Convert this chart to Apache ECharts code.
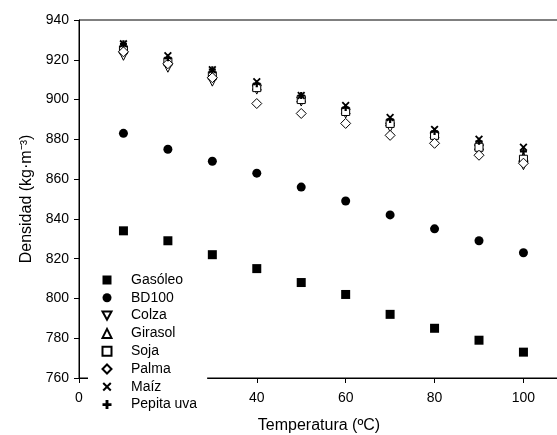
<!DOCTYPE html>
<html>
<head>
<meta charset="utf-8">
<script src="https://cdn.jsdelivr.net/npm/echarts@6/dist/echarts.min.js"></script>
<style>
  html, body { margin: 0; padding: 0; background: #fff; }
  #main { width: 557px; height: 435px; }
</style>
</head>
<body>
<div id="main"></div>
<script>
// temperature (ºC)
const temps = [10, 20, 30, 40, 50, 60, 70, 80, 90, 100];

// density (kg·m-3) per fuel
const gasoleo = [834, 829, 822, 815, 808, 802, 792, 785, 779, 773];
const bd100   = [883, 875, 869, 863, 856, 849, 842, 835, 829, 823];
const colza   = [922, 916, 909, 905, 899, 893, 886, 881, 875, 867];
const girasol = [926, 920, 913, 907, 901, 895, 889, 883, 877, 871];
const soja    = [925, 919, 912, 906, 900, 894, 888, 882, 876, 870];
const palma   = [924, 918, 911, 898, 893, 888, 882, 878, 872, 868];
const maiz    = [928, 922, 915, 909, 902, 897, 891, 885, 880, 876];
const pepita  = [928, 921, 915, 908, 902, 896, 890, 884, 879, 874];

const yTicks = [760, 780, 800, 820, 840, 860, 880, 900, 920, 940];

const FONT = "Liberation Sans, Arial, sans-serif";
const X_PATH = "path://M0,1.6 L1.6,0 L5,3.4 L8.4,0 L10,1.6 L6.6,5 L10,8.4 L8.4,10 L5,6.6 L1.6,10 L0,8.4 L3.4,5 Z";
const PLUS_PATH = "path://M3.4,0 H6.6 V3.4 H10 V6.6 H6.6 V10 H3.4 V6.6 H0 V3.4 H3.4 Z";
const DOWN_TRI = "path://M0,0 L10,0 L5,9 Z";

function pts(vals) {
  return temps.map((t, i) => [t, vals[i]]);
}

function mk(name, vals, symbol, size, empty) {
  return {
    name: name,
    type: "scatter",
    data: pts(vals),
    symbol: symbol,
    symbolSize: size,
    itemStyle: empty
      ? { color: "#fff", borderColor: "#000", borderWidth: 1, opacity: 1 }
      : { color: "#000", opacity: 1 },
    emphasis: { disabled: true },
  };
}

const chart = echarts.init(document.getElementById("main"));

chart.setOption({
  animation: false,
  grid: {
    left: 79,
    top: 20,
    right: -2,
    bottom: 57,
    outerBoundsMode: "none",
    show: true,
    borderColor: "#000",
    borderWidth: 1,
    backgroundColor: "transparent",
  },
  legend: {
    orient: "vertical",
    left: 88,
    top: 268,
    padding: [5, 10, 10, 13.5],
    backgroundColor: "#fff",
    itemWidth: 9,
    itemHeight: 9,
    itemGap: 3.8,
    selectedMode: false,
    textStyle: { fontFamily: FONT, fontSize: 14, color: "#000", padding: [0, 0, 0, 14.5] },
    data: ["Gasóleo", "BD100", "Colza", "Girasol", "Soja", "Palma", "Maíz", "Pepita uva"],
  },
  xAxis: {
    type: "value",
    min: 0,
    max: 108,
    interval: 20,
    name: "Temperatura (ºC)",
    nameLocation: "middle",
    nameGap: 40,
    nameTextStyle: { fontFamily: FONT, fontSize: 16, color: "#000" },
    axisLine: { lineStyle: { color: "#000", width: 1 } },
    axisTick: { inside: false, length: 5, lineStyle: { color: "#000" } },
    axisLabel: { fontFamily: FONT, fontSize: 14, color: "#000", margin: 13, showMaxLabel: false },
    splitLine: { show: false },
  },
  yAxis: {
    type: "value",
    min: yTicks[0],
    max: yTicks[yTicks.length - 1],
    interval: 20,
    name: "Densidad (kg·m⁻³)",
    nameLocation: "middle",
    nameGap: 40,
    nameRotate: 90,
    nameTextStyle: { fontFamily: FONT, fontSize: 16, color: "#000" },
    axisLine: { show: true, lineStyle: { color: "#000", width: 1 } },
    axisTick: { show: true, inside: false, length: 5, lineStyle: { color: "#000" } },
    axisLabel: { fontFamily: FONT, fontSize: 14, color: "#000", margin: 10 },
    splitLine: { show: false },
  },
  series: [
    mk("Gasóleo", gasoleo, "rect", 9, false),
    mk("BD100", bd100, "circle", 9, false),
    mk("Colza", colza, DOWN_TRI, 9, true),
    mk("Girasol", girasol, "triangle", 9, true),
    mk("Soja", soja, "rect", 8, true),
    mk("Palma", palma, "diamond", 10, true),
    mk("Maíz", maiz, X_PATH, 8, false),
    mk("Pepita uva", pepita, PLUS_PATH, 7, false),
  ],
});
</script>
</body>
</html>
